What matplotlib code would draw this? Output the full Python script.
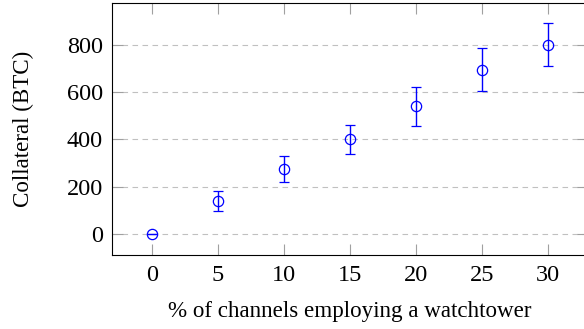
import matplotlib
matplotlib.use("Agg")
import matplotlib.pyplot as plt

# data
pct_watchtower = [0, 5, 10, 15, 20, 25, 30]
collateral_btc = [0, 140, 275, 401, 540, 696, 802]
collateral_err = [0, 41, 53, 62, 81, 90, 89]
x_ticks = [0, 5, 10, 15, 20, 25, 30]
y_ticks = [0, 200, 400, 600, 800]

plt.rcParams["font.family"] = ["Liberation Serif", "DejaVu Serif"]

fig = plt.figure(figsize=(5.84, 3.29), dpi=100)
ax = fig.add_axes([0.1925, 0.2249, 0.8137, 0.7669])

ax.errorbar(pct_watchtower, collateral_btc, yerr=collateral_err,
            fmt="o", color="blue", mfc="none", mec="blue", ms=7.4, mew=0.9,
            ecolor="blue", elinewidth=1.0, capsize=3.3, capthick=1.0, zorder=3)

ax.set_xlim(-3, 33)
ax.set_ylim(-89, 979)
ax.set_xticks(x_ticks)
ax.set_yticks(y_ticks)

# pgfplots-like look
ax.yaxis.grid(True, linestyle=(0, (5, 4)), color="#c0c0c0", linewidth=0.8)
ax.set_axisbelow(True)
ax.tick_params(direction="in", length=8, width=0.8, color="#a0a0a0",
               top=True, right=True, labelsize=17.5, pad=7)
for s in ax.spines.values():
    s.set_linewidth(0.8)

ax.set_xlabel("% of channels employing a watchtower", fontsize=16.6)
ax.set_ylabel("Collateral (BTC)", fontsize=16.6)
ax.xaxis.set_label_coords(0.5, -0.182)
ax.yaxis.set_label_coords(-0.166, 0.5)

fig.savefig("out.png", dpi=100)
